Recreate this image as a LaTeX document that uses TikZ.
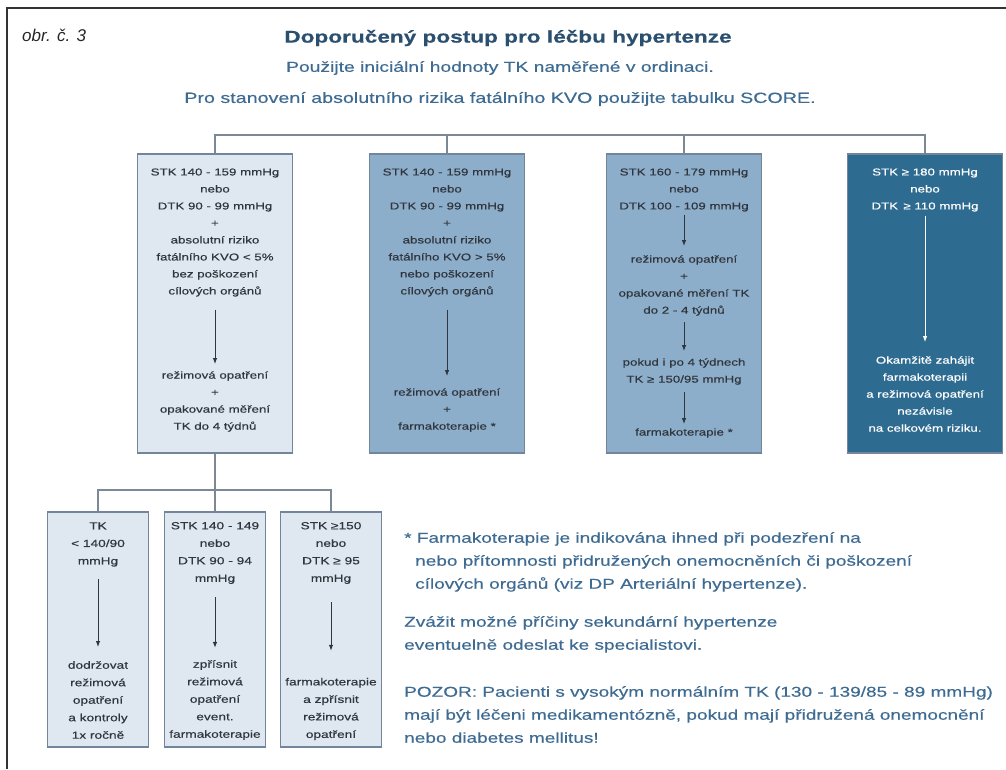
\documentclass[tikz,border=0pt]{standalone}
\usepackage{fontspec}
\setmainfont{Liberation Sans}[FakeStretch=1.33, FakeBold=0.4]
\newfontfamily\figfont{Liberation Sans}
\usepackage{tikz}
\usetikzlibrary{arrows.meta}

\definecolor{boxlight}{HTML}{DFE8F0}
\definecolor{boxmid}{HTML}{8DAECB}
\definecolor{boxdark}{HTML}{2E6B91}
\definecolor{boxline}{HTML}{73859A}
\definecolor{connline}{HTML}{7C8893}
\definecolor{boxtext}{HTML}{30363D}
\definecolor{notecol}{HTML}{3E6B92}
\definecolor{titlecol}{HTML}{2B4F6F}

\begin{document}
\begin{tikzpicture}[x=1pt, y=-1pt,
    box/.style = {draw=boxline, line width=1.3pt, minimum width=155pt, minimum height=299pt, inner sep=0pt},
    lowbox/.style = {box, fill=boxlight, minimum width=101pt, minimum height=235pt},
    txt/.style = {align=center, text=boxtext, font=\fontsize{10}{17}\selectfont, inner sep=1pt},
    lowtxt/.style = {txt, font=\fontsize{10.3}{17.5}\selectfont},
    conn/.style = {draw=connline, line width=1.2pt},
    arr/.style = {-{Latex[length=6pt,width=4.5pt]}, draw=boxtext, line width=1pt},
    note/.style = {anchor=north west, align=left, text=notecol, inner sep=0pt, font=\fontsize{14.3}{23}\selectfont}]

    \useasboundingbox (0,0) rectangle (1006,769);
    \draw[line width=1.5pt, draw=black!80] (1006,8) -- (7,8) -- (7,769);

    % heading
    \node[anchor=west, inner sep=0pt, font=\figfont\itshape\fontsize{17}{18}\selectfont, text=black!85] (fig) at (22,35) {obr. č. 3};
    \node[text=titlecol, font=\bfseries\fontsize{17}{20}\selectfont] (title) at (508,38) {Doporučený postup pro léčbu hypertenze};
    \node[text=notecol, font=\fontsize{14.5}{18}\selectfont] (sub1) at (500,68) {Použijte iniciální hodnoty TK naměřené v ordinaci.};
    \node[text=notecol, font=\fontsize{14.8}{18}\selectfont] (sub2) at (500,99) {Pro stanovení absolutního rizika fatálního KVO použijte tabulku SCORE.};

    % top row
    \node[box, fill=boxlight] (box1) at (215,303.5) {};
    \node[box, fill=boxmid] (box2) at (447,303.5) {};
    \node[box, fill=boxmid] (box3) at (684,303.5) {};
    \node[box, fill=boxdark] (box4) at (925,303.5) {};
    \coordinate (topbar) at (0,135);
    \draw[conn] (box1.north) |- (topbar -| box4.north) -- (box4.north);
    \draw[conn] (box2.north) -- (box2.north |- topbar);
    \draw[conn] (box3.north) -- (box3.north |- topbar);

    \node[txt] (b1a) at (215,232.5) {STK 140 - 159 mmHg\\nebo\\DTK 90 - 99 mmHg\\+\\absolutní riziko\\fatálního KVO < 5\%\\bez poškození\\cílových orgánů};
    \node[txt] (b1b) at (215,401.5) {režimová opatření\\+\\opakované měření\\TK do 4 týdnů};
    \draw[arr, shorten <=12pt, shorten >=6pt] (b1a) -- (b1b);

    \node[txt] (b2a) at (447,232.5) {STK 140 - 159 mmHg\\nebo\\DTK 90 - 99 mmHg\\+\\absolutní riziko\\fatálního KVO > 5\%\\nebo poškození\\cílových orgánů};
    \node[txt] (b2b) at (447,410) {režimová opatření\\+\\farmakoterapie *};
    \draw[arr, shorten <=12pt, shorten >=11pt] (b2a) -- (b2b);

    \node[txt] (b3a) at (684,190) {STK 160 - 179 mmHg\\nebo\\DTK 100 - 109 mmHg};
    \node[txt] (b3b) at (684,285.5) {režimová opatření\\+\\opakované měření TK\\do 2 - 4 týdnů};
    \node[txt] (b3c) at (684,371.5) {pokud i po 4 týdnech\\TK ≥ 150/95 mmHg};
    \node[txt] (b3d) at (684,433) {farmakoterapie *};
    \draw[arr, shorten <=2pt, shorten >=8pt] (b3a) -- (b3b);
    \draw[arr, shorten <=5pt, shorten >=6pt] (b3b) -- (b3c);
    \draw[arr, shorten <=6pt, shorten >=3pt] (b3c) -- (b3d);

    \node[txt, text=white] (b4a) at (925,190) {STK ≥ 180 mmHg\\nebo\\DTK \,≥ 110 mmHg};
    \node[txt, text=white] (b4b) at (925,394) {Okamžitě zahájit\\farmakoterapii\\a režimová opatření\\nezávisle\\na celkovém riziku.};
    \draw[arr, draw=white, shorten <=3pt, shorten >=13pt] (b4a) -- (b4b);

    % bottom row
    \node[lowbox] (boxa) at (98,629.5) {};
    \node[lowbox] (boxb) at (215,629.5) {};
    \node[lowbox] (boxc) at (331,629.5) {};
    \coordinate (lowbar) at (0,490);
    \draw[conn] (box1.south) -- (box1.south |- lowbar);
    \draw[conn] (boxa.north) |- (lowbar -| boxc.north) -- (boxc.north);
    \draw[conn] (boxb.north) -- (boxb.north |- lowbar);

    \node[lowtxt] (ba1) at (98,544.5) {TK\\< 140/90\\mmHg};
    \node[lowtxt] (ba2) at (98,700) {dodržovat\\režimová\\opatření\\a kontroly\\1x ročně};
    \draw[arr, shorten <=11pt, shorten >=13pt] (ba1) -- (ba2);

    \node[lowtxt] (bb1) at (215,553) {STK 140 - 149\\nebo\\DTK 90 - 94\\mmHg};
    \node[lowtxt] (bb2) at (215,700) {zpřísnit\\režimová\\opatření\\event.\\farmakoterapie};
    \draw[arr, shorten <=12pt, shorten >=11pt] (bb1) -- (bb2);

    \node[lowtxt] (bc1) at (331,553) {STK ≥150\\nebo\\DTK ≥ 95\\mmHg};
    \node[lowtxt] (bc2) at (331,709) {farmakoterapie\\a zpřísnit\\režimová\\opatření};
    \draw[arr, shorten <=17pt, shorten >=26pt] (bc1) -- (bc2);

    % notes
    \node[note] (note1) at (404,532) {* Farmakoterapie je indikována ihned při podezření na\\\hspace*{11pt}nebo přítomnosti přidružených onemocněních či poškození\\\hspace*{11pt}cílových orgánů (viz DP Arteriální hypertenze).};
    \node[note] (note2) at (404,616) {Zvážit možné příčiny sekundární hypertenze\\eventuelně odeslat ke specialistovi.};
    \node[note] (note3) at (404,686) {POZOR: Pacienti s vysokým normálním TK (130 - 139/85 - 89 mmHg)\\mají být léčeni medikamentózně, pokud mají přidružená onemocnění\\nebo diabetes mellitus!};
\end{tikzpicture}
\end{document}
